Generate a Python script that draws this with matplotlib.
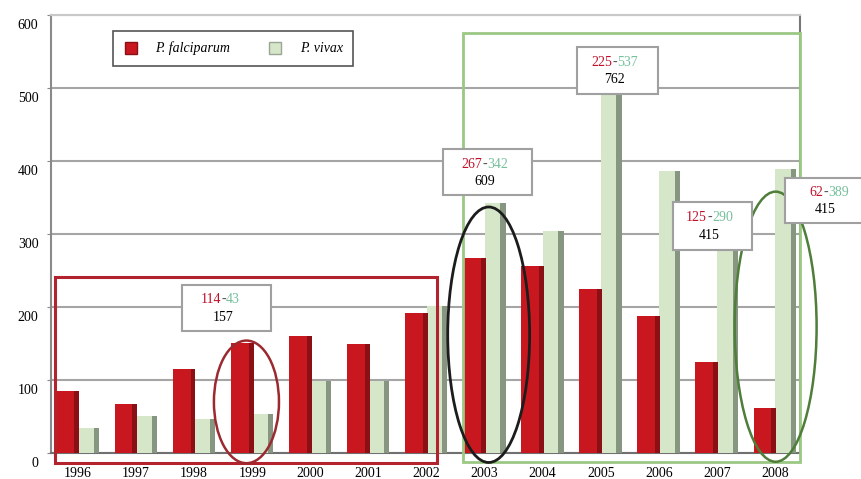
import matplotlib
matplotlib.use("Agg")
import matplotlib.pyplot as plt
from matplotlib.patches import Ellipse, Rectangle
from matplotlib.lines import Line2D
import matplotlib.transforms as mtransforms
import numpy as np

plt.rcParams['font.family'] = ['Liberation Serif', 'DejaVu Serif']

# Datos
years = ['1996', '1997', '1998', '1999', '2000', '2001', '2002',
         '2003', '2004', '2005', '2006', '2007', '2008']
falciparum = [85, 67, 115, 151, 160, 149, 192, 267, 256, 225, 188, 125, 62]
vivax = [34, 51, 47, 53, 99, 99, 201, 342, 304, 537, 386, 290, 389]

# Cajas de anotacion: (indice del anio, falciparum, vivax, total)
notes = [(3, '114', '43', '157'),
         (7, '267', '342', '609'),
         (9, '225', '537', '762'),
         (11, '125', '290', '415'),
         (12, '62', '389', '415')]

red, red_side = '#c9171f', '#8a1016'
green, green_side = '#d6e6c9', '#869681'

fig = plt.figure(figsize=(8.61, 4.79), dpi=100)
ax = fig.add_axes([0.0592, 0.0543, 0.870, 0.9144])

x = np.arange(len(years))

# barras vivax (detras) y falciparum (delante), con cara lateral oscura
ax.bar(x + 0.137, vivax, width=0.27, color=green, zorder=3)
ax.bar(x + 0.315, vivax, width=0.09, color=green_side, zorder=3)
ax.bar(x - 0.215, falciparum, width=0.31, color=red, zorder=4)
ax.bar(x - 0.02, falciparum, width=0.085, color=red_side, zorder=4)

ax.set_xlim(-0.465, 12.43)
ax.set_ylim(0, 600)
ax.set_xticks(x)
ax.set_xticklabels(years, fontsize=10)
ax.set_yticks(range(0, 601, 100))
ax.tick_params(axis='x', length=0, pad=10)
ax.tick_params(axis='y', length=3, color='#888888', labelsize=10, pad=6)
offset = mtransforms.ScaledTranslation(0, -0.09, fig.dpi_scale_trans)
for lab in ax.get_yticklabels():
    lab.set_transform(lab.get_transform() + offset)

ax.grid(axis='y', color='#a5a5a5', linewidth=1.5, zorder=0)
for side, col in [('left', '#8a8a8a'), ('bottom', '#707070'),
                  ('top', '#c8c8c8'), ('right', '#777777')]:
    ax.spines[side].set_color(col)
    ax.spines[side].set_linewidth(1.5)

# leyenda
handles = [Line2D([], [], marker='s', ls='', markersize=9, color=red, markeredgecolor=red_side),
           Line2D([], [], marker='s', ls='', markersize=9, color=green, markeredgecolor='#9aa595')]
leg = ax.legend(handles, ['P. falciparum', 'P. vivax'], ncol=2, loc='upper left',
                bbox_to_anchor=(0.083, 0.963), borderaxespad=0, fancybox=False,
                edgecolor='#555555', framealpha=1, handlelength=1.0, handletextpad=1.3,
                columnspacing=2.7, borderpad=0.75, prop={'style': 'italic', 'size': 10})
leg.get_frame().set_linewidth(1.2)
leg.set_zorder(10)

# rectangulos de periodos
ax.add_patch(Rectangle((-0.40, -14), 6.58, 255, fill=False, edgecolor='#b3232e',
                       linewidth=2.2, clip_on=False, zorder=6))
ax.add_patch(Rectangle((6.63, -12), 5.80, 587, fill=False, edgecolor='#9cc884',
                       linewidth=2.0, clip_on=False, zorder=6))

# elipses
ax.add_patch(Ellipse((2.9, 70), 1.12, 168, fill=False, edgecolor='#9b2a30',
                     linewidth=1.8, clip_on=False, zorder=7))
ax.add_patch(Ellipse((7.07, 162), 1.41, 350, fill=False, edgecolor='#1c1c1c',
                     linewidth=2.0, clip_on=False, zorder=7))
ax.add_patch(Ellipse((12.01, 173), 1.41, 370, fill=False, edgecolor='#4f7d3a',
                     linewidth=1.8, clip_on=False, zorder=7))

# cajas con valores
boxes = {3: (1.79, 167, 1.53, 63), 7: (6.28, 353, 1.53, 63), 9: (8.59, 492, 1.39, 64),
         11: (10.24, 278, 1.36, 66), 12: (12.17, 315, 1.50, 62)}
for i, f, v, tot in notes:
    bx, by, bw, bh = boxes[i]
    ax.add_patch(Rectangle((bx, by), bw, bh, facecolor='white', edgecolor='#a0a0a0',
                           linewidth=1.5, clip_on=False, zorder=8))
    cx = bx + bw / 2 - 0.05
    y1 = by + bh * 0.68
    y2 = by + bh * 0.30
    ax.text(cx, y1, '-', ha='center', va='center', fontsize=10, color='#555555', zorder=9)
    ax.annotate(f, (cx, y1), xytext=(-1.8, 0), textcoords='offset points', ha='right',
                va='center', fontsize=10, color='#c0102a', zorder=9, annotation_clip=False)
    ax.annotate(v, (cx, y1), xytext=(1.8, 0), textcoords='offset points', ha='left',
                va='center', fontsize=10, color='#76c09c', zorder=9, annotation_clip=False)
    ax.text(cx, y2, tot, ha='center', va='center', fontsize=10, color='black',
            zorder=9, clip_on=False)

fig.savefig('out.png', dpi=100)
